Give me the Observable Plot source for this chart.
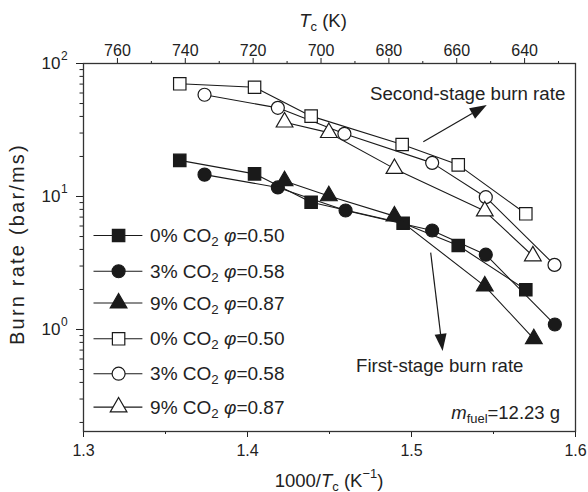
<!DOCTYPE html>
<html><head><meta charset="utf-8">
<script src="https://cdn.jsdelivr.net/npm/d3@7"></script>
<script src="https://cdn.jsdelivr.net/npm/@observablehq/plot@0.6"></script>
<style>body{margin:0;background:#fff} svg{display:block}</style>
</head><body><div id="chart"></div>
<script>
// ---- data ----
const first0x = [1.3587, 1.4043, 1.4388, 1.4949, 1.5285, 1.5697];
const first0y = [18.7, 14.8, 9.06, 6.30, 4.28, 1.99];
const first3x = [1.3738, 1.4185, 1.4598, 1.5126, 1.5453, 1.5874];
const first3y = [14.6, 11.7, 7.85, 5.55, 3.65, 1.09];
const first9x = [1.4226, 1.4496, 1.4896, 1.5447, 1.5746];
const first9y = [13.1, 10.1, 7.12, 2.12, 0.85];
const second0x = [1.3587, 1.4043, 1.4388, 1.4943, 1.5285, 1.5697];
const second0y = [70.4, 66.3, 40.2, 24.6, 17.3, 7.41];
const second3x = [1.3738, 1.4185, 1.4591, 1.5126, 1.5453, 1.5872];
const second3y = [58.2, 46.4, 29.6, 17.9, 9.88, 3.06];
const second9x = [1.4226, 1.4496, 1.4896, 1.5447, 1.574];
const second9y = [36.2, 30.2, 16.2, 7.77, 3.57];

const co2Labels = ["0%", "3%", "9%", "0%", "3%", "9%"];
const phiLabels = ["0.50", "0.58", "0.87", "0.50", "0.58", "0.87"];

const xMajor = [1.3, 1.4, 1.5, 1.6];
const xMinor = [1.35, 1.45, 1.55];
const topMajor = [760, 740, 720, 700, 680, 660, 640];
const topMinor = [750, 730, 710, 690, 670, 650, 630];
const yMajor = [1, 10, 100];
const yMinor = [0.2,0.3,0.4,0.5,0.6,0.7,0.8,0.9, 2,3,4,5,6,7,8,9, 20,30,40,50,60,70,80,90];

// ---- styles (kept separate) ----
const symbolsOf = ["square", "circle", "triangle", "square", "circle", "triangle"];
const filledOf = [true, true, true, false, false, false];
const radiusOf = {square: 7, circle: 6.5, triangle: 6.2};

// ---- build table ----
const seriesX = [first0x, first3x, first9x, second0x, second3x, second9x];
const seriesY = [first0y, first3y, first9y, second0y, second3y, second9y];
const rows = [];
seriesX.forEach((xs, s) => xs.forEach((x, i) => rows.push({series: s, x, y: seriesY[s][i]})));

// legend placement (data coordinates)
const legendY = [5.09, 2.74, 1.58, 0.851, 0.465, 0.261];
const legendRows = legendY.map((y, s) => ({series: s, y, x1: 1.3061, x2: 1.3359, xm: 1.3214, xt: 1.3409}));

// top axis: linear in T across the frame
const tToX = T => 1.3 + (770 - T) / 145 * 0.3;
const xToT = x => 770 - (x - 1.3) / 0.3 * 145;

const ink = "#1a1a1a";
const dotMarks = [];
for (let s = 0; s < 6; s++) {
  const opts = {
    symbol: () => symbolsOf[s], r: radiusOf[symbolsOf[s]],
    fill: filledOf[s] ? ink : "white", stroke: ink, strokeWidth: 1.2
  };
  dotMarks.push(Plot.dot(rows.filter(d => d.series === s), {x: "x", y: "y", ...opts}));
  dotMarks.push(Plot.dot(legendRows.filter(d => d.series === s), {x: "xm", y: "y", ...opts}));
}

const plot = Plot.plot({
  width: 588, height: 492,
  marginTop: 63, marginLeft: 83, marginRight: 13, marginBottom: 61,
  style: {fontFamily: "'Liberation Sans', Arial, sans-serif", fontSize: "15px", color: "#222", background: "white"},
  x: {domain: [1.3, 1.6]},
  y: {type: "log", domain: [0.171, 100]},
  marks: [
    Plot.axisX(xMajor, {anchor: "bottom", tickSize: 6, tickPadding: 7, tickFormat: d3.format(".1f"), label: null, fontSize: 16}),
    Plot.axisX(xMinor, {anchor: "bottom", tickSize: 3, tickFormat: () => "", label: null}),
    Plot.axisX(topMajor.map(tToX), {anchor: "top", tickSize: 6, tickPadding: 2, tickFormat: d => String(Math.round(xToT(d))), label: null, fontSize: 16}),
    Plot.axisX(topMinor.map(tToX), {anchor: "top", tickSize: 3, tickFormat: () => "", label: null}),
    Plot.axisY(yMajor, {anchor: "left", tickSize: 7, tickFormat: () => "", label: null}),
    Plot.axisY(yMinor, {anchor: "left", tickSize: 3.5, tickFormat: () => "", label: null}),
    Plot.text(yMajor, {x: () => 1.3, y: d => d, text: () => "10", textAnchor: "end", dx: -23, fontSize: 17, fill: "#222"}),
    Plot.text(yMajor, {x: () => 1.3, y: d => d, text: d => String(Math.round(Math.log10(d))), textAnchor: "start", dx: -22.5, dy: -7, fontSize: 12, fill: "#222"}),
    Plot.frame({stroke: "#333", strokeWidth: 1.3}),
    Plot.line(rows, {x: "x", y: "y", z: "series", stroke: ink, strokeWidth: 1.1}),
    Plot.link(legendRows, {x1: "x1", x2: "x2", y1: "y", y2: "y", stroke: ink, strokeWidth: 1.1}),
    ...dotMarks
  ]
});

document.getElementById("chart").append(plot);

// ---- annotations drawn with the plot's own scales ----
const sx = plot.scale("x"), sy = plot.scale("y");
const X = v => sx.apply(v), Y = v => sy.apply(v);
const svg = d3.select(plot);
const font = "'Liberation Sans', Arial, sans-serif";

function rich(x, y, parts, {size = 18, anchor = "start", transform = null, spacing = 0} = {}) {
  const t = svg.append("text")
    .attr("font-family", font).attr("font-size", size).attr("fill", "#222")
    .attr("text-anchor", anchor).attr("dominant-baseline", "central");
  if (spacing) t.attr("letter-spacing", spacing);
  if (transform) t.attr("transform", transform); else t.attr("x", x).attr("y", y);
  let shift = 0;
  for (const p of parts) {
    const sp = t.append("tspan").text(p.t);
    let target = 0, fs = size;
    if (p.sub) { target = size * 0.32; fs = size * 0.7; }
    if (p.sup) { target = -size * 0.38; fs = size * 0.7; }
    sp.attr("dy", target - shift).attr("font-size", fs);
    shift = target;
    if (p.it) sp.attr("font-style", "italic");
  }
  return t;
}

// legend text
legendRows.forEach(d => {
  rich(X(d.xt), Y(d.y), [
    {t: co2Labels[d.series] + " CO"}, {t: "2", sub: true}, {t: " "},
    {t: "φ", it: true}, {t: "=" + phiLabels[d.series]}
  ], {size: 19});
});

// annotation texts
rich(X(1.475), Y(59.8), [{t: "Second-stage burn rate"}], {size: 18.7});
rich(X(1.4665), Y(0.536), [{t: "First-stage burn rate"}], {size: 18.6});
rich(X(1.5909), Y(0.239), [{t: "m", it: true}, {t: "fuel", sub: true}, {t: "=12.23 g"}], {size: 18.5, anchor: "end"});

// arrows with filled heads
function arrow(x1, y1, x2, y2) {
  const ax = X(x1), ay = Y(y1), bx = X(x2), by = Y(y2);
  const len = Math.hypot(bx - ax, by - ay), ux = (bx - ax) / len, uy = (by - ay) / len;
  const hl = 17, hw = 6;
  const cx = bx - ux * hl, cy = by - uy * hl;
  svg.append("line").attr("x1", ax).attr("y1", ay).attr("x2", cx).attr("y2", cy)
    .attr("stroke", ink).attr("stroke-width", 1.2);
  svg.append("path")
    .attr("d", `M${bx},${by}L${cx - uy * hw},${cy + ux * hw}L${cx + uy * hw},${cy - ux * hw}Z`)
    .attr("fill", ink);
}
arrow(1.5075, 25.6, 1.5462, 48.3);
arrow(1.512, 3.75, 1.5193, 0.684);

// axis titles
const cxFrame = (X(1.3) + X(1.6)) / 2;
rich(cxFrame, 480, [{t: "1000/"}, {t: "T", it: true}, {t: "c", sub: true}, {t: " (K"}, {t: "−1", sup: true}, {t: ")"}], {size: 18.5, anchor: "middle"});
rich(X(tToX(700)) + 2.5, 20, [{t: "T", it: true}, {t: "c", sub: true}, {t: " (K)"}], {size: 18.5, anchor: "middle"});
const cyFrame = (Y(100) + Y(0.171)) / 2;
rich(0, 0, [{t: "Burn rate (bar/ms)"}], {size: 20, anchor: "middle", spacing: 2.2, transform: `translate(17,${cyFrame - 3}) rotate(-90)`});
</script>
</body></html>
